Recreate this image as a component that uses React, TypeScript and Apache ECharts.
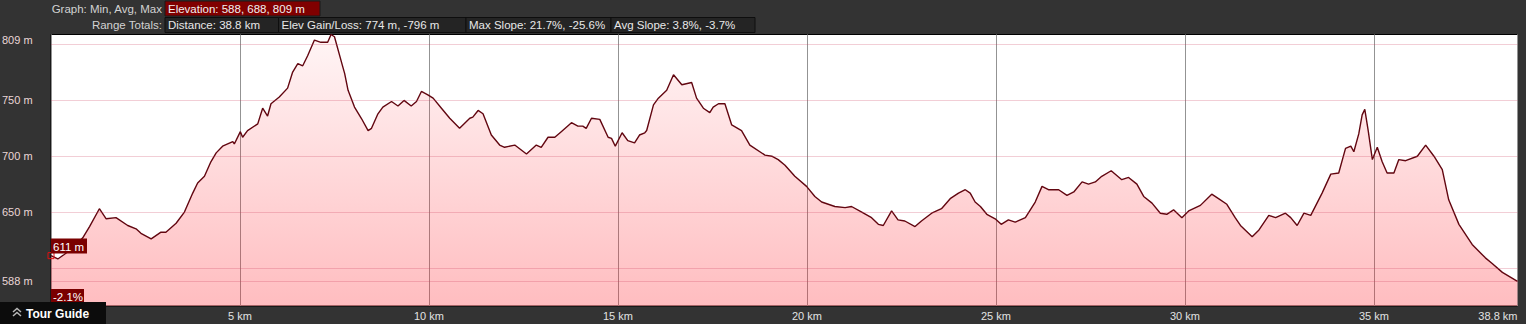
import React, { useEffect, useRef } from "react";
import * as echarts from "echarts";

const distanceKm = [
  0, 0.18, 0.35, 0.62, 0.84, 1.02, 1.28, 1.46, 1.72, 2.03,
  2.25, 2.38, 2.65, 2.91, 3.04, 3.31, 3.53, 3.75, 3.88, 4.06,
  4.23, 4.37, 4.54, 4.81, 4.85, 5.01, 5.07, 5.2, 5.47, 5.6,
  5.73, 5.82, 6.04, 6.26, 6.39, 6.53, 6.66, 6.79, 6.97, 7.14,
  7.32, 7.41, 7.5, 7.72, 7.77, 7.86, 8.03, 8.21, 8.39, 8.48,
  8.65, 8.78, 9.01, 9.18, 9.34, 9.53, 9.67, 9.8, 9.97, 10.11,
  10.33, 10.55, 10.81, 11.08, 11.16, 11.3, 11.43, 11.65, 11.87, 12,
  12.27, 12.58, 12.84, 12.97, 13.15, 13.33, 13.5, 13.77, 13.94, 14.07,
  14.16, 14.3, 14.52, 14.74, 14.83, 14.93, 15.11, 15.26, 15.44, 15.57,
  15.71, 15.76, 15.94, 16.07, 16.29, 16.47, 16.69, 16.95, 17.08, 17.26,
  17.43, 17.52, 17.66, 17.83, 18.01, 18.27, 18.49, 18.89, 19.07, 19.24,
  19.42, 19.68, 19.99, 20.21, 20.39, 20.74, 21.01, 21.18, 21.45, 21.71,
  21.89, 22.02, 22.24, 22.41, 22.59, 22.86, 23.03, 23.3, 23.56, 23.79,
  24.01, 24.19, 24.32, 24.45, 24.59, 24.76, 24.98, 25.14, 25.33, 25.51,
  25.78, 26.04, 26.22, 26.39, 26.66, 26.88, 27.06, 27.28, 27.45, 27.63,
  27.8, 28.05, 28.33, 28.51, 28.73, 28.91, 29.13, 29.35, 29.52, 29.7,
  29.92, 30.1, 30.41, 30.71, 30.89, 31.11, 31.33, 31.47, 31.78, 31.96,
  32.22, 32.4, 32.66, 32.8, 32.97, 33.15, 33.33, 33.63, 33.86, 34.07,
  34.25, 34.39, 34.47, 34.6, 34.69, 34.76, 34.85, 34.96, 35.09, 35.22,
  35.35, 35.53, 35.66, 35.84, 36.15, 36.37, 36.59, 36.81, 36.98, 37.25,
  37.6, 37.95, 38.13, 38.4, 38.8,
];

const elevationM = [
  611, 608, 612, 619, 627, 637, 653, 644, 645, 638,
  635, 631, 626, 632, 632, 640, 650, 667, 676, 682,
  695, 703, 709, 713, 711, 722, 717, 723, 729, 743,
  736, 747, 753, 761, 775, 783, 781, 790, 804, 802,
  802, 809, 807, 780, 774, 759, 744, 734, 723, 725,
  738, 744, 749, 745, 750, 745, 749, 758, 755, 752,
  743, 734, 725, 734, 735, 741, 738, 719, 710, 708,
  710, 702, 710, 708, 717, 717, 722, 730, 727, 727,
  725, 734, 733, 717, 716, 709, 721, 714, 712, 719,
  721, 723, 746, 752, 759, 773, 764, 766, 752, 743,
  739, 744, 747, 747, 728, 723, 710, 701, 700, 697,
  692, 682, 673, 664, 659, 655, 654, 655, 650, 645,
  639, 638, 651, 643, 642, 637, 642, 649, 653, 662,
  667, 670, 667, 659, 655, 648, 644, 639, 643, 641,
  645, 659, 673, 670, 670, 665, 668, 677, 675, 677,
  682, 687, 679, 681, 675, 664, 658, 649, 648, 652,
  645, 651, 656, 666, 662, 657, 645, 638, 628, 634,
  647, 645, 649, 645, 638, 649, 647, 667, 684, 685,
  707, 709, 704, 720, 737, 742, 723, 697, 708, 695,
  685, 685, 697, 696, 700, 710, 700, 688, 661, 639,
  621, 609, 604, 596, 588,
];

const elevMin = 588;
const elevMax = 809;
const yLabelValues = [588, 650, 700, 750, 809];
const yGridValues = [588, 600, 650, 700, 750, 800];
const totalKm = 38.8;
const xTickStepKm = 5;

const graphLabel = "Graph: Min, Avg, Max";
const graphStats = ["Elevation: 588, 688, 809 m"];
const rangeLabel = "Range Totals:";
const rangeTotals = [
  "Distance: 38.8 km",
  "Elev Gain/Loss: 774 m, -796 m",
  "Max Slope: 21.7%, -25.6%",
  "Avg Slope: 3.8%, -3.7%",
];
const cursorElevation = "611 m";
const cursorSlope = "-2.1%";

const FONT = "'Liberation Sans', Arial, sans-serif";

export default function App() {
  const ref = useRef<HTMLDivElement>(null);

  useEffect(() => {
    if (!ref.current) return;
    const chart = echarts.init(ref.current, null, { renderer: "svg" });

    const rangeBoxX = [165, 278.5, 466, 611, 755];
    const graphic: any[] = [
      {
        type: "text",
        x: 162,
        y: 8.5,
        style: { text: graphLabel, fill: "#d2d2d2", font: `11.5px ${FONT}`, align: "right", verticalAlign: "middle" },
      },
      {
        type: "rect",
        shape: { x: 165, y: 1, width: 155, height: 15 },
        style: { fill: "#800000", stroke: "#1a1a1a", lineWidth: 1 },
      },
      {
        type: "text",
        x: 168,
        y: 8.5,
        style: { text: graphStats[0], fill: "#f0f0f0", font: `11.5px ${FONT}`, align: "left", verticalAlign: "middle" },
      },
      {
        type: "text",
        x: 162,
        y: 25,
        style: { text: rangeLabel, fill: "#d2d2d2", font: `11.5px ${FONT}`, align: "right", verticalAlign: "middle" },
      },
    ];
    rangeTotals.forEach((t, i) => {
      graphic.push({
        type: "rect",
        shape: { x: rangeBoxX[i], y: 17.5, width: rangeBoxX[i + 1] - rangeBoxX[i], height: 15 },
        style: { fill: "#242424", stroke: "#0e0e0e", lineWidth: 1 },
      });
      graphic.push({
        type: "text",
        x: rangeBoxX[i] + 3,
        y: 25,
        style: { text: t, fill: "#e8e8e8", font: `11.5px ${FONT}`, align: "left", verticalAlign: "middle" },
      });
    });
    graphic.push(
      {
        type: "rect",
        z: 100,
        shape: { x: 51, y: 238.5, width: 36, height: 15 },
        style: { fill: "#7a0000" },
      },
      {
        type: "text",
        z: 101,
        x: 53,
        y: 246.5,
        style: { text: cursorElevation, fill: "#ffffff", font: `11.5px ${FONT}`, align: "left", verticalAlign: "middle" },
      },
      {
        type: "rect",
        z: 100,
        shape: { x: 51, y: 289, width: 33, height: 14 },
        style: { fill: "#7a0000" },
      },
      {
        type: "text",
        z: 101,
        x: 53,
        y: 296.5,
        style: { text: cursorSlope, fill: "#ffffff", font: `11.5px ${FONT}`, align: "left", verticalAlign: "middle" },
      },
      {
        type: "rect",
        z: 102,
        shape: { x: 0, y: 302, width: 106, height: 22 },
        style: { fill: "#0c0c0c" },
      },
      {
        type: "polyline",
        z: 103,
        shape: { points: [[13, 312], [17, 308.5], [21, 312]] },
        style: { stroke: "#b8b8b8", lineWidth: 1.5, fill: null },
      },
      {
        type: "polyline",
        z: 103,
        shape: { points: [[13, 316], [17, 312.5], [21, 316]] },
        style: { stroke: "#b8b8b8", lineWidth: 1.5, fill: null },
      },
      {
        type: "text",
        z: 103,
        x: 26,
        y: 313.5,
        style: { text: "Tour Guide", fill: "#ffffff", font: `bold 12px ${FONT}`, align: "left", verticalAlign: "middle" },
      }
    );

    const option: any = {
      animation: false,
      backgroundColor: "#333333",
      grid: {
        left: 51,
        right: 8.5,
        top: 34.5,
        bottom: 18,
        show: true,
        backgroundColor: "#ffffff",
        borderColor: "#000000",
        borderWidth: 1,
        outerBoundsMode: "none",
      },
      xAxis: {
        type: "value",
        min: 0,
        max: totalKm,
        interval: xTickStepKm,
        axisLine: { show: false },
        axisTick: { show: false },
        splitLine: { show: true, lineStyle: { color: "#939393", width: 1 } },
        axisLabel: {
          color: "#e2e2e2",
          fontSize: 11,
          fontFamily: FONT,
          margin: 4,
          alignMaxLabel: "right",
          showMaxLabel: true,
          formatter: (v: number) => (v === 0 ? "" : `${v} km`),
        },
      },
      yAxis: {
        type: "value",
        min: elevMin - 0.1 * (elevMax - elevMin),
        max: elevMax,
        axisLine: { show: false },
        axisTick: { show: false },
        splitLine: { show: false },
        axisLabel: {
          customValues: yLabelValues,
          color: "#ead6d6",
          fontSize: 11,
          fontFamily: FONT,
          align: "left",
          margin: 49,
          verticalAlignMaxLabel: "top",
          formatter: (v: number) => `${v} m`,
        },
      },
      series: [
        {
          type: "line",
          data: distanceKm.map((d, i) => [d, elevationM[i]]),
          showSymbol: false,
          symbol: "none",
          lineStyle: { color: "#620610", width: 1.4 },
          areaStyle: {
            color: new echarts.graphic.LinearGradient(0, 0, 0, 1, [
              { offset: 0, color: "rgba(255,30,40,0.06)" },
              { offset: 1, color: "rgba(255,30,40,0.42)" },
            ]),
          },
          markLine: {
            silent: true,
            symbol: ["none", "none"],
            label: { show: false },
            lineStyle: { color: "rgba(205,60,90,0.25)", width: 1, type: "solid" },
            data: yGridValues.map((v) => ({ yAxis: v })),
          },
          markPoint: {
            silent: true,
            symbol: "rect",
            symbolSize: 6,
            label: { show: false },
            itemStyle: { color: "rgba(0,0,0,0)", borderColor: "#e01010", borderWidth: 1 },
            data: [{ coord: [distanceKm[0], elevationM[0]] }],
          },
        },
      ],
      graphic,
    };

    chart.setOption(option);
    return () => chart.dispose();
  }, []);

  return (
    <div
      ref={ref}
      style={{ position: "fixed", left: 0, top: 0, width: 1526, height: 324 }}
    />
  );
}
